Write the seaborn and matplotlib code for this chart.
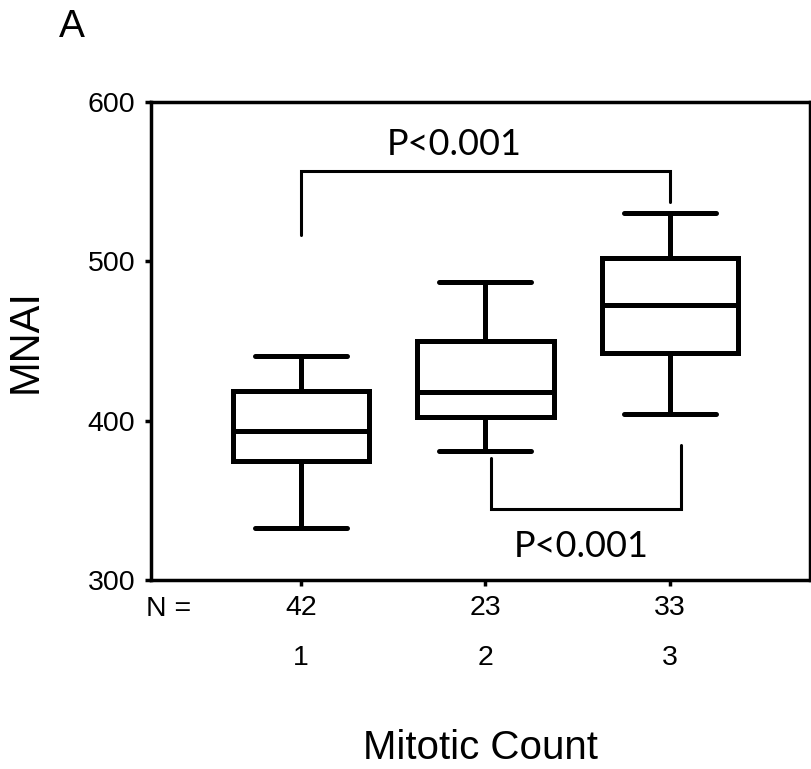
"""Box plot of MNAI by mitotic count (panel A)."""

import matplotlib

matplotlib.use("Agg")

import matplotlib.pyplot as plt
import pandas as pd
import seaborn as sns

# five-number summaries (whisker low, Q1, median, Q3, whisker high)
groups = ["1", "2", "3"]
n_counts = [42, 23, 33]
whisker_low = [332.5, 380.8, 404.2]
q1 = [374.9, 402.5, 442.3]
median = [393.3, 417.8, 472.5]
q3 = [418.4, 450.2, 502.0]
whisker_high = [440.8, 486.8, 530.2]

# significance brackets: (left group, right group), leg tops, bar level, label
bracket_pairs = [(0, 2), (1, 2)]
bracket_left_end = [516.4, 376.6]
bracket_bar = [556.7, 344.6]
bracket_right_end = [537.0, 384.5]
bracket_labels = ["P<0.001", "P<0.001"]
label_pos = [(0.83, 573.5), (1.52, 321.0)]

rows = []
for g, lo, a, m, b, hi in zip(groups, whisker_low, q1, median, q3, whisker_high):
    for v in (lo, a, m, b, hi):
        rows.append({"group": g, "mnai": v})
df = pd.DataFrame(rows)

sns.set_theme(style="white")
plt.rcParams["font.family"] = ["Liberation Sans", "DejaVu Sans"]
plt.rcParams.update({"text.color": "black", "axes.labelcolor": "black"})

fig = plt.figure(figsize=(8.12, 7.69), dpi=100)
ax = fig.add_axes([0.186, 0.2458, 0.8115, 0.6216])

sns.boxplot(
    data=df,
    x="group",
    y="mnai",
    whis=(0, 100),
    width=0.74,
    color="white",
    linecolor="black",
    linewidth=3.6,
    showfliers=False,
    capwidths=0.5,
    ax=ax,
)

for (i, j), l_end, bar, r_end in zip(bracket_pairs, bracket_left_end, bracket_bar, bracket_right_end):
    xl = i + (0.03 if i else 0.0)
    xr = j + (0.06 if i else 0.0)
    ax.plot([xl, xl, xr, xr], [l_end, bar, bar, r_end], color="black", lw=2.2,
            solid_joinstyle="miter", zorder=3)

for text, (tx, ty) in zip(bracket_labels, label_pos):
    ax.text(tx, ty, text, ha="center", va="center", fontsize=26, color="black",
            family=["Lato", "DejaVu Sans"])

ax.set_xlim(-0.813, 2.76)
ax.set_ylim(300, 600)
ax.set_yticks([300, 400, 500, 600])
ax.set_xticks(range(len(groups)))
ax.set_xticklabels([f"{n}\n{g}" for n, g in zip(n_counts, groups)], linespacing=2.2)

for spine in ax.spines.values():
    spine.set_visible(True)
    spine.set_color("black")
    spine.set_linewidth(2.5)

ax.tick_params(axis="both", which="major", direction="out", length=4, width=2.5,
               color="black", labelsize=20.5, labelcolor="black")
ax.tick_params(axis="x", pad=6.5, bottom=True)
ax.tick_params(axis="y", pad=7.5, left=True)

ax.annotate("N =", xy=(-0.72, 0), xycoords=("data", "axes fraction"),
            xytext=(0, -11.5), textcoords="offset points", ha="center", va="top",
            fontsize=20.5)

ax.set_xlabel("Mitotic Count", fontsize=29, labelpad=42)
ax.set_ylabel("MNAI", fontsize=30)
ax.yaxis.set_label_coords(-0.16, 0.5)

fig.text(0.088, 0.965, "A", fontsize=28, ha="center", va="center")

fig.savefig("out.png", dpi=100)
